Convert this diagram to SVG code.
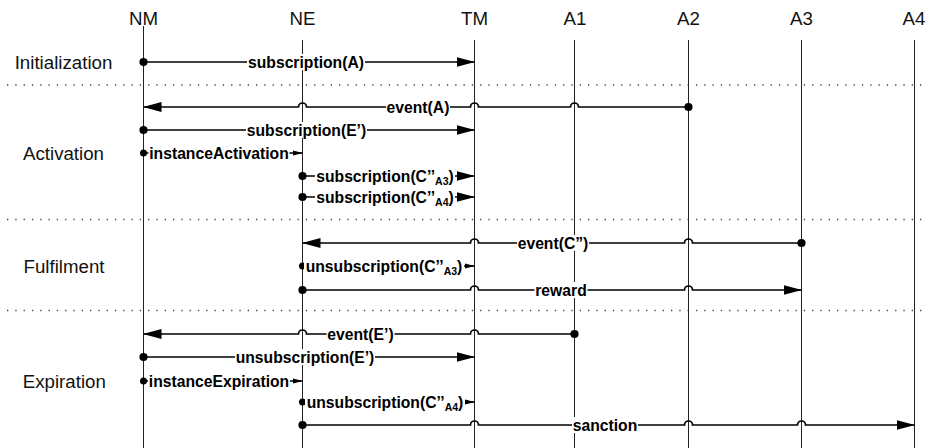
<svg xmlns="http://www.w3.org/2000/svg" width="930" height="448" viewBox="0 0 930 448">
<style>
.hd{font-family:"Liberation Sans",Arial,sans-serif;font-size:18.7px;fill:#111;text-anchor:middle}
.ll{stroke:#222;stroke-width:1;fill:none}
.sep{stroke:#444;stroke-width:1.3;stroke-dasharray:1.3 7;fill:none}
.ar{stroke:#000;stroke-width:1.7;fill:none;marker-start:url(#dot)}
.big{marker-end:url(#arr)}
.sm{marker-start:url(#dots);marker-end:url(#arrs)}
.lb{fill:#fff}
.lt{font-family:"Liberation Sans",Arial,sans-serif;font-weight:bold;font-size:15.7px;fill:#000;text-anchor:middle}
.sub{font-size:10.5px}
</style>
<defs>
<marker id="dot" markerUnits="userSpaceOnUse" markerWidth="10" markerHeight="10" refX="5" refY="5" viewBox="0 0 10 10"><circle cx="5" cy="5" r="4.1" fill="#000"/></marker>
<marker id="dots" markerUnits="userSpaceOnUse" markerWidth="10" markerHeight="10" refX="5" refY="5" viewBox="0 0 10 10"><circle cx="5" cy="5" r="3.5" fill="#000"/></marker>
<marker id="arr" markerUnits="userSpaceOnUse" markerWidth="19" markerHeight="11" refX="18" refY="5.5" orient="auto" viewBox="0 0 19 11"><path d="M0,0.5 L18.5,5.5 L0,10.5 z" fill="#000"/></marker>
<marker id="arrs" markerUnits="userSpaceOnUse" markerWidth="11" markerHeight="6" refX="10" refY="3" orient="auto" viewBox="0 0 11 6"><path d="M0,0.5 L10.5,3 L0,5.5 z" fill="#000"/></marker>
</defs>
<rect width="930" height="448" fill="#fff"/>

<g id="separators">
<line class="sep" x1="7" y1="85" x2="926" y2="85"/>
<line class="sep" x1="7" y1="219.5" x2="926" y2="219.5"/>
<line class="sep" x1="7" y1="310.5" x2="926" y2="310.5"/>
</g>

<g id="phases">
<text class="hd" x="63.5" y="68.5">Initialization</text>
<text class="hd" x="63.5" y="159.5">Activation</text>
<text class="hd" x="64" y="272.5">Fulfilment</text>
<text class="hd" x="64.3" y="387.5">Expiration</text>
</g>

<g id="NM"><text class="hd" x="143.5" y="25">NM</text><line class="ll" x1="143.5" y1="26" x2="143.5" y2="448"/></g>
<g id="NE"><text class="hd" x="302.5" y="25">NE</text><line class="ll" x1="302.5" y1="40" x2="302.5" y2="448"/></g>
<g id="TM"><text class="hd" x="474.5" y="25">TM</text><line class="ll" x1="474.5" y1="40" x2="474.5" y2="448"/></g>
<g id="A1"><text class="hd" x="575" y="25">A1</text><line class="ll" x1="574.5" y1="40" x2="574.5" y2="448"/></g>
<g id="A2"><text class="hd" x="688.5" y="25">A2</text><line class="ll" x1="688.5" y1="40" x2="688.5" y2="448"/></g>
<g id="A3"><text class="hd" x="801.5" y="25">A3</text><line class="ll" x1="801.5" y1="40" x2="801.5" y2="448"/></g>
<g id="A4"><text class="hd" x="914" y="25">A4</text><line class="ll" x1="914.5" y1="40" x2="914.5" y2="448"/></g>

<g id="connectors">
<path class="ar big" d="M143.5,62 H474.5"/>
<path class="ar big" d="M688.5,107 H578.5 A4,4 0 0 0 570.5,107 H478.5 A4,4 0 0 0 470.5,107 H306.5 A4,4 0 0 0 298.5,107 H143.5"/>
<path class="ar big" d="M143.5,130 H474.5"/>
<path class="ar sm" d="M143.5,153 H302.5"/>
<path class="ar big" d="M302.5,176 H474.5"/>
<path class="ar big" d="M302.5,197 H474.5"/>
<path class="ar big" d="M801.5,243 H692.5 A4,4 0 0 0 684.5,243 H478.5 A4,4 0 0 0 470.5,243 H302.5"/>
<path class="ar sm" d="M302.5,266 H474.5"/>
<path class="ar big" d="M302.5,290 H470.5 A4,4 0 0 1 478.5,290 H684.5 A4,4 0 0 1 692.5,290 H801.5"/>
<path class="ar big" d="M574.5,334 H478.5 A4,4 0 0 0 470.5,334 H306.5 A4,4 0 0 0 298.5,334 H143.5"/>
<path class="ar big" d="M143.5,357 H474.5"/>
<path class="ar sm" d="M143.5,381 H302.5"/>
<path class="ar sm" d="M302.5,402 H474.5"/>
<path class="ar big" d="M302.5,425 H470.5 A4,4 0 0 1 478.5,425 H684.5 A4,4 0 0 1 692.5,425 H797.5 A4,4 0 0 1 805.5,425 H914.5"/>

<rect class="lb" x="247" y="54" width="118" height="16"/>
<text class="lt" x="306" y="67.5">subscription(A)</text>
<rect class="lb" x="386" y="99" width="64" height="16"/>
<text class="lt" x="418" y="112.5">event(A)</text>
<rect class="lb" x="246" y="122" width="121" height="16"/>
<text class="lt" x="306.5" y="135.5">subscription(E’)</text>
<rect class="lb" x="148.5" y="145" width="141" height="16"/>
<text class="lt" x="219" y="158.5">instanceActivation</text>
<rect class="lb" x="315" y="168" width="140" height="16"/>
<text class="lt" x="385" y="181.5">subscription(C’’<tspan class="sub" dy="3">A3</tspan><tspan dy="-3">)</tspan></text>
<rect class="lb" x="315" y="189" width="140" height="16"/>
<text class="lt" x="385" y="202.5">subscription(C’’<tspan class="sub" dy="3">A4</tspan><tspan dy="-3">)</tspan></text>
<rect class="lb" x="517" y="235" width="72" height="16"/>
<text class="lt" x="553" y="248.5">event(C”)</text>
<rect class="lb" x="304" y="258" width="160" height="16"/>
<text class="lt" x="384" y="271.5">unsubscription(C’’<tspan class="sub" dy="3">A3</tspan><tspan dy="-3">)</tspan></text>
<rect class="lb" x="534.5" y="282" width="53" height="16"/>
<text class="lt" x="561" y="295.5">reward</text>
<rect class="lb" x="326.5" y="326" width="68" height="16"/>
<text class="lt" x="360.5" y="339.5">event(E’)</text>
<rect class="lb" x="235" y="349" width="140" height="16"/>
<text class="lt" x="305" y="362.5">unsubscription(E’)</text>
<rect class="lb" x="148" y="373" width="142" height="16"/>
<text class="lt" x="219" y="386.5">instanceExpiration</text>
<rect class="lb" x="305" y="394" width="160" height="16"/>
<text class="lt" x="385" y="407.5">unsubscription(C’’<tspan class="sub" dy="3">A4</tspan><tspan dy="-3">)</tspan></text>
<rect class="lb" x="572" y="417" width="66" height="16"/>
<text class="lt" x="605" y="430.5">sanction</text>
</g>
</svg>
